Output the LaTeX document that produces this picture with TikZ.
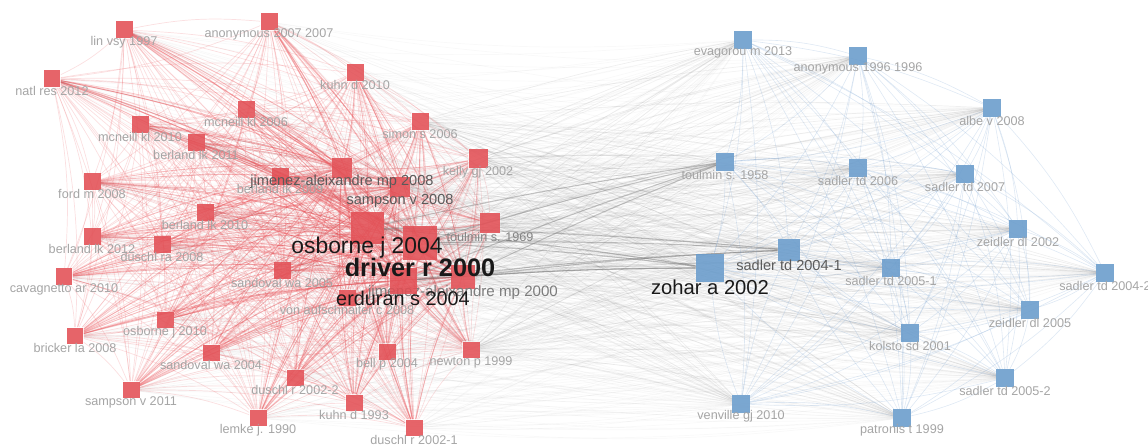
\documentclass[tikz,border=0pt]{standalone}
\usepackage{fontspec}
\setmainfont{Liberation Sans}
\usepackage{tikz}
\usetikzlibrary{backgrounds}

\definecolor{vred}{RGB}{226,78,84}
\definecolor{vblue}{RGB}{104,155,203}
\definecolor{ered}{RGB}{232,80,86}
\definecolor{eblue}{RGB}{110,155,205}
\definecolor{egray}{RGB}{110,110,110}
\definecolor{lgray}{RGB}{165,165,165}
\definecolor{mgray}{RGB}{90,90,90}
\definecolor{dgray}{RGB}{25,25,25}

\begin{document}
\begin{tikzpicture}[x=0.02cm, y=-0.02cm, label distance=2pt]

\tikzstyle{lbl} = [anchor=center, inner sep=0pt, text=lgray, font=\fontsize{7.2}{8}\selectfont]
\tikzstyle{lblm} = [lbl, text=mgray, font=\fontsize{8.3}{9}\selectfont]
\tikzstyle{lblb} = [lbl, text=dgray, font=\fontsize{13}{14}\selectfont]
\tikzstyle{redsq} = [rectangle, fill=vred, fill opacity=0.88, inner sep=0pt, minimum size=0.34cm]
\tikzstyle{bluesq} = [rectangle, fill=vblue, fill opacity=0.88, inner sep=0pt, minimum size=0.35cm]
\tikzstyle{redge} = [ered, opacity=0.18, line width=0.4pt]
\tikzstyle{gedge} = [egray, opacity=0.045, line width=0.4pt]
\tikzstyle{bedge} = [eblue, opacity=0.22, line width=0.35pt]

\useasboundingbox (0,0) rectangle (1148,445);

% red cluster
\node (lin) [redsq, label={[lbl]below:lin vsy 1997}] at (124,30) {};
\node (anon07) [redsq, label={[lbl]below:anonymous 2007 2007}] at (269,22) {};
\node (natl) [redsq, label={[lbl]below:natl res 2012}] at (52,79) {};
\node (kuhn10) [redsq, label={[lbl]below:kuhn d 2010}] at (355,73) {};
\node (mcn06) [redsq, label={[lbl]below:mcneill kl 2006}] at (246,110) {};
\node (mcn10) [redsq, label={[lbl]below:mcneill kl 2010}] at (140,125) {};
\node (ber11) [redsq, label={[lbl]below:berland lk 2011}] at (196,143) {};
\node (simon) [redsq, label={[lbl]below:simon s 2006}] at (420,122) {};
\node (kelly) [redsq, minimum size=0.38cm, label={[lbl]below:kelly gj 2002}] at (478,159) {};
\node (ber09) [redsq, label={[lbl]below:berland lk 2009}] at (280,177) {};
\node (ford) [redsq, label={[lbl]below:ford m 2008}] at (92,182) {};
\node (ber10) [redsq, label={[lbl]below:berland lk 2010}] at (205,213) {};
\node (ber12) [redsq, label={[lbl]below:berland lk 2012}] at (92,237) {};
\node (dus08) [redsq, label={[lbl]below:duschl ra 2008}] at (162,245) {};
\node (cav) [redsq, label={[lbl]below:cavagnetto ar 2010}] at (64,277) {};
\node (sand05) [redsq, label={[lbl]below:sandoval wa 2005}] at (282,271) {};
\node (osb10) [redsq, label={[lbl]below:osborne j 2010}] at (165,320) {};
\node (brick) [redsq, label={[lbl]below:bricker la 2008}] at (75,336) {};
\node (sand04) [redsq, label={[lbl]below:sandoval wa 2004}] at (211,353) {};
\node (samp11) [redsq, label={[lbl]below:sampson v 2011}] at (131,390) {};
\node (lemke) [redsq, label={[lbl]below:lemke j. 1990}] at (258,418) {};
\node (dus2) [redsq, label={[lbl]below:duschl r 2002-2}] at (295,378) {};
\node (kuhn93) [redsq, label={[lbl]below:kuhn d 1993}] at (354,403) {};
\node (dus1) [redsq, label={[lbl]below:duschl r 2002-1}] at (414,428) {};
\node (bell) [redsq, label={[lbl]below:bell p 2004}] at (387,352) {};
\node (newton) [redsq, label={[lbl]below:newton p 1999}] at (471,350) {};
\node (toul69) [redsq, minimum size=0.4cm, label={[lbl, text=lgray!80!black]below:toulmin s. 1969}] at (490,223) {};
\node (samp08) [redsq, minimum size=0.4cm, label={[lblm]below:sampson v 2008}] at (400,187) {};
\node (jim08) [redsq, minimum size=0.4cm, label={[lblm]below:jimenez-aleixandre mp 2008}] at (342,168) {};
\node (von) [redsq, label={[lbl]below:von aufschnaiter c 2008}] at (347,298) {};
\node (jim00) [redsq, minimum size=0.48cm, label={[lblm, text=lgray!75!black, font=\fontsize{8.6}{9}\selectfont]below:jimenez-aleixandre mp 2000}] at (463,277) {};
\node (erd) [redsq, minimum size=0.54cm, label={[lblb, font=\fontsize{11.3}{12}\selectfont]below:erduran s 2004}] at (403,281) {};
\node (drv) [redsq, minimum size=0.68cm, label={[lblb, label distance=4pt, font=\fontsize{14.4}{15}\selectfont\bfseries]below:driver r 2000}] at (420,243) {};
\node (osb04) [redsq, minimum size=0.66cm, label={[lblb, label distance=1.4pt]below:osborne j 2004}] at (367,228) {};

% blue cluster
\node (evag) [bluesq, label={[lbl]below:evagorou m 2013}] at (743,40) {};
\node (anon96) [bluesq, label={[lbl]below:anonymous 1996 1996}] at (858,56) {};
\node (albe) [bluesq, label={[lbl]below:albe v 2008}] at (992,108) {};
\node (toul58) [bluesq, label={[lbl]below:toulmin s. 1958}] at (725,162) {};
\node (sad06) [bluesq, label={[lbl]below:sadler td 2006}] at (858,168) {};
\node (sad07) [bluesq, label={[lbl]below:sadler td 2007}] at (965,174) {};
\node (zei02) [bluesq, label={[lbl]below:zeidler dl 2002}] at (1018,229) {};
\node (sad051) [bluesq, label={[lbl]below:sadler td 2005-1}] at (891,268) {};
\node (sad042) [bluesq, label={[lbl]below:sadler td 2004-2}] at (1105,273) {};
\node (zei05) [bluesq, label={[lbl]below:zeidler dl 2005}] at (1030,310) {};
\node (kolsto) [bluesq, label={[lbl]below:kolsto sd 2001}] at (910,333) {};
\node (sad052) [bluesq, label={[lbl]below:sadler td 2005-2}] at (1005,378) {};
\node (venv) [bluesq, label={[lbl]below:venville gj 2010}] at (741,404) {};
\node (patr) [bluesq, label={[lbl]below:patronis t 1999}] at (902,418) {};
\node (sad041) [bluesq, minimum size=0.44cm, label={[lblm]below:sadler td 2004-1}] at (789,250) {};
\node (zohar) [bluesq, minimum size=0.56cm, label={[lblb, label distance=2.8pt, font=\fontsize{11.5}{12}\selectfont]below:zohar a 2002}] at (710,268) {};

\def\redlist{lin,anon07,natl,kuhn10,mcn06,mcn10,ber11,simon,kelly,ber09,ford,ber10,ber12,dus08,cav,sand05,osb10,brick,sand04,samp11,lemke,dus2,kuhn93,dus1,bell,newton,toul69,samp08,jim08,von,jim00,erd,drv,osb04}
\def\outerred{lin,anon07,natl,kuhn10,mcn06,mcn10,ber11,simon,kelly,ber09,ford,ber10,ber12,dus08,cav,sand05,osb10,brick,sand04,samp11,lemke,dus2,kuhn93,dus1,bell,newton,toul69,von}
\def\bluelist{evag,anon96,albe,toul58,sad06,sad07,zei02,sad051,sad042,zei05,kolsto,sad052,venv,patr,sad041,zohar}

\begin{scope}[on background layer]
% links inside the red cluster
\foreach \a [count=\i] in \redlist {
  \foreach \b [count=\j] in \redlist {
    \ifnum\j>\i \draw [redge] (\a) to[bend left=8] (\b); \fi
  }
}
\foreach \a in {osb04,drv,erd,jim00,jim08,samp08} {
  \foreach \b in \outerred \draw [redge, opacity=0.38, line width=0.5pt] (\a) to[bend right=6] (\b);
}
% links between the clusters
\foreach \a in \redlist {
  \foreach \b in \bluelist \draw [gedge] (\a) to[bend right=6] (\b);
}
\foreach \a in {osb04,drv,erd,jim00,toul69,kelly,simon,newton,samp08} {
  \foreach \b in \bluelist \draw [gedge, opacity=0.11] (\a) to[bend left=4] (\b);
}
\foreach \a in {osb04,drv,erd,jim00} {
  \foreach \b in {zohar,sad041,toul58} \draw [gedge, opacity=0.4, line width=0.6pt] (\a) to[bend left=2] (\b);
}
% links inside the blue cluster
\foreach \a [count=\i] in \bluelist {
  \foreach \b [count=\j] in \bluelist {
    \ifnum\j>\i \draw [bedge] (\a) to[bend left=8] (\b); \fi
  }
}
\end{scope}
\end{tikzpicture}
\end{document}
